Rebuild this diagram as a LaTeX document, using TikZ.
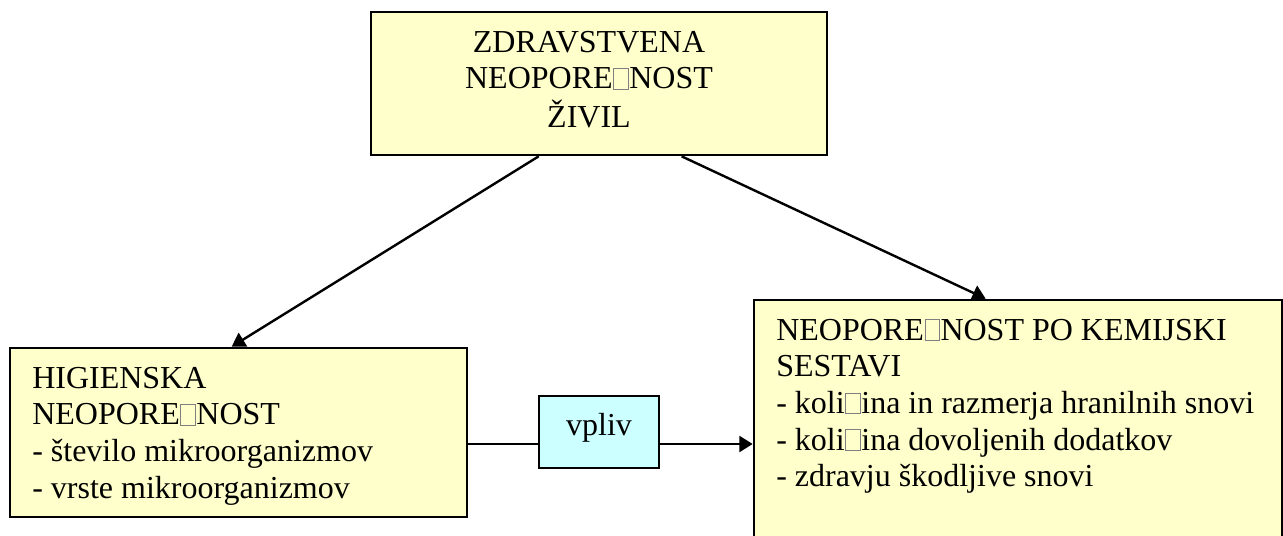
\documentclass[tikz,border=0pt]{standalone}
\usepackage{fontspec}
\setmainfont{Liberation Serif}
\usetikzlibrary{fit,arrows.meta,calc}
\definecolor{boxyellow}{HTML}{FFFFCC}
\definecolor{boxcyan}{HTML}{CCFFFF}
% glyph placeholder drawn as an empty outlined box
\newcommand\nogl{{\color{gray}\setlength\fboxsep{0pt}\setlength\fboxrule{0.5pt}\hspace{0.5pt}\fbox{\rule{0pt}{15pt}\hspace{10.5pt}}\hspace{0.5pt}}}
\tikzset{
  ybox/.style={draw=black, line width=2pt, fill=boxyellow, inner sep=0pt},
  cbox/.style={draw=black, line width=2pt, fill=boxcyan, inner sep=0pt},
  txt/.style={inner sep=0pt, font=\fontsize{24}{27.5}\selectfont},
  link/.style={line width=1.8pt, draw=black},
  arr/.style={link, -{Triangle[length=10pt,width=12pt]}},
}
\begin{document}
\begin{tikzpicture}[x=0.75pt, y=-0.75pt]
\clip (0,0) rectangle (1283,536);
\fill[white] (0,0) rectangle (1283,536);

% boxes
\node[ybox, fit={(371,12) (827,155)}] (top) {};
\node[ybox, fit={(10,348) (467,517)}] (hyg) {};
\node[ybox, fit={(754,300) (1282,570)}] (chem) {};
\node[cbox, fit={(539,396) (659,468)}] (vpl) {};

% texts
\node[txt, anchor=base] (toptxt) at (589,52)
  {\begin{tabular}[t]{@{}c@{}}ZDRAVSTVENA\\NEOPORE\nogl NOST\\ŽIVIL\end{tabular}};
\node[txt, anchor=base west] (hygtxt) at (32,388)
  {\begin{tabular}[t]{@{}l@{}}HIGIENSKA\\NEOPORE\nogl NOST\\- število mikroorganizmov\\- vrste mikroorganizmov\end{tabular}};
\node[txt, anchor=base west] (chemtxt) at (776,340)
  {\begin{tabular}[t]{@{}l@{}}NEOPORE\nogl NOST PO KEMIJSKI\\SESTAVI\\- koli\nogl ina in razmerja hranilnih snovi\\- koli\nogl ina dovoljenih dodatkov\\- zdravju škodljive snovi\end{tabular}};
\node[txt, anchor=base] (vpltxt) at (599,435) {vpliv};

% connectors
\coordinate (lv) at (0,444);
\draw[arr] ($(top.south west)+(169,0)$) -- ($(hyg.north west)+(223,0)$);
\draw[arr] ($(top.south west)+(312,0)$) -- ($(chem.north west)+(233,0)$);
\draw[link] (hyg.east |- lv) -- (vpl.west |- lv);
\draw[arr] (vpl.east |- lv) -- (chem.west |- lv);
\end{tikzpicture}
\end{document}
